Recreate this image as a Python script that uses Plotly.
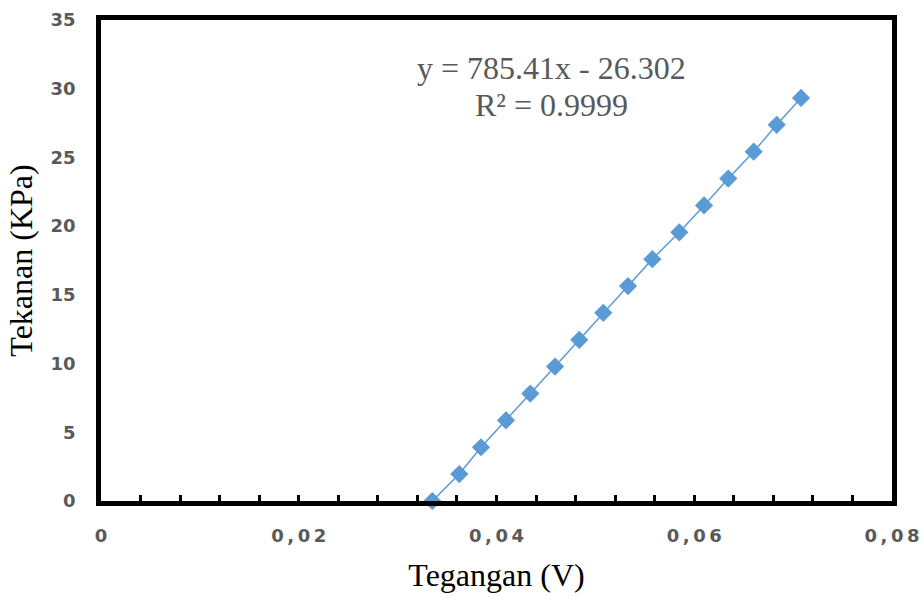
import plotly.graph_objects as go

tegangan = [0.03351, 0.03624, 0.03843, 0.04096, 0.04342, 0.04592, 0.04837, 0.05080,
            0.05330, 0.05576, 0.05849, 0.06099, 0.06344, 0.06601, 0.06834, 0.07080]
tekanan = [0, 1.96, 3.91, 5.87, 7.82, 9.78, 11.73, 13.69, 15.64, 17.6, 19.55, 21.51,
           23.46, 25.42, 27.37, 29.33]

x_tick_vals = [i * 0.004 for i in range(21)]
x_tick_labels = {0: "0", 5: "0,02", 10: "0,04", 15: "0,06", 20: "0,08"}
x_tick_text = ["\u2009".join(x_tick_labels.get(i, "")) for i in range(21)]
y_tick_vals = [0, 5, 10, 15, 20, 25, 30, 35]

fig = go.Figure()
fig.add_trace(go.Scatter(
    x=tegangan, y=tekanan, mode="lines+markers",
    line=dict(color="#5B9BD5", width=1.5),
    marker=dict(symbol="diamond", size=14, color="#5B9BD5"),
    showlegend=False, cliponaxis=False, hoverinfo="skip",
))

tick_font = dict(family="DejaVu Sans", size=18, color="#595959", weight="bold")
serif = dict(family="Liberation Serif", size=32, color="black")

fig.update_layout(
    width=923, height=599,
    margin=dict(l=101, r=31, t=20, b=98),
    paper_bgcolor="white", plot_bgcolor="white",
    xaxis=dict(
        range=[0, 0.08], tickvals=x_tick_vals, ticktext=x_tick_text,
        ticks="inside", ticklen=6, tickwidth=3, tickcolor="black",
        showgrid=False, zeroline=False, automargin=False,
        showline=True, linecolor="black", linewidth=4.5, mirror=True,
        tickfont=tick_font, ticklabelstandoff=15,
        title=dict(text="Tegangan (V)", font=serif, standoff=20),
    ),
    yaxis=dict(
        range=[0, 35], tickvals=y_tick_vals,
        ticks="", showgrid=False, zeroline=False, automargin=False,
        showline=True, linecolor="black", linewidth=4.5, mirror=True,
        tickfont=tick_font, ticklabelstandoff=17,
        title=dict(text="Tekanan (KPa)", font=serif, standoff=10),
    ),
    annotations=[
        dict(x=0.04561, y=31.5, xref="x", yref="y", text="y = 785.41x - 26.302",
             showarrow=False, font=dict(family="Liberation Serif", size=32, color="#595959")),
        dict(x=0.04561, y=28.8, xref="x", yref="y", text="R² = 0.9999",
             showarrow=False, font=dict(family="Liberation Serif", size=32, color="#595959")),
    ],
)

fig.write_html(
    "out.html",
    config={"displayModeBar": False},
    post_script="document.body.style.margin='0';document.body.style.overflow='hidden';",
)
